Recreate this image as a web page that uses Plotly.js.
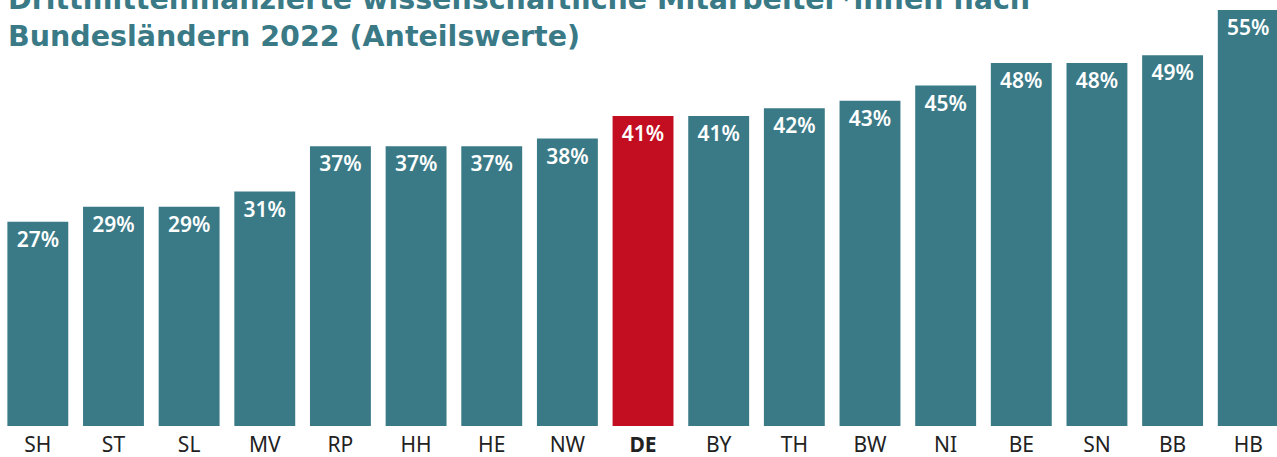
<!DOCTYPE html>
<html>
<head>
<meta charset="utf-8">
<script src="https://cdn.plot.ly/plotly-3.0.1.min.js"></script>
<style>html,body{margin:0;padding:0;background:#fff;overflow:hidden}#chart{width:1277px;height:457px}</style>
</head>
<body>
<div id="chart"></div>
<script>
const categories = ["SH","ST","SL","MV","RP","HH","HE","NW","DE","BY","TH","BW","NI","BE","SN","BB","HB"];
const values = [27,29,29,31,37,37,37,38,41,41,42,43,45,48,48,49,55];
const highlight = "DE";
const titleText = "Drittmittelfinanzierte wissenschaftliche Mitarbeiter*innen nach<br>Bundesländern 2022 (Anteilswerte)";

const teal = "#3a7a87", red = "#c30e21";
const colors = categories.map(c => c === highlight ? red : teal);
const tickText = categories.map(c => c === highlight ? "<b>" + c + "</b>" : c);

const trace = {
  type: "bar",
  x: categories,
  y: values,
  marker: {color: colors, line: {width: 0}},
  text: values.map(v => v + "%"),
  textposition: "inside",
  insidetextanchor: "end",
  textangle: 0,
  constraintext: "none",
  textfont: {family: "Noto Sans", size: 21, color: "#ffffff", weight: 600},
  hoverinfo: "skip"
};

const layout = {
  width: 1277, height: 457,
  margin: {l: 0, r: 0, t: 0, b: 31, pad: 0},
  paper_bgcolor: "#fff", plot_bgcolor: "#fff",
  bargap: 0.195,
  showlegend: false,
  xaxis: {
    type: "category",
    range: [-0.5, 16.38],
    tickvals: categories, ticktext: tickText,
    tickfont: {family: "Noto Sans", size: 21, color: "#222222"},
    showline: false, showgrid: false, zeroline: false, ticks: "",
    ticklabelstandoff: 4
  },
  yaxis: {range: [0, 56.32], visible: false, showgrid: false, zeroline: false},
  annotations: [{
    text: "<b>" + titleText + "</b>",
    xref: "paper", yref: "paper", x: 0, y: 1,
    xanchor: "left", yanchor: "top", align: "left",
    xshift: 6, yshift: 19, showarrow: false,
    font: {family: "DejaVu Sans", size: 28.5, color: teal, weight: 700}
  }]
};

Plotly.newPlot("chart", [trace], layout, {displayModeBar: false, staticPlot: true});
</script>
</body>
</html>
